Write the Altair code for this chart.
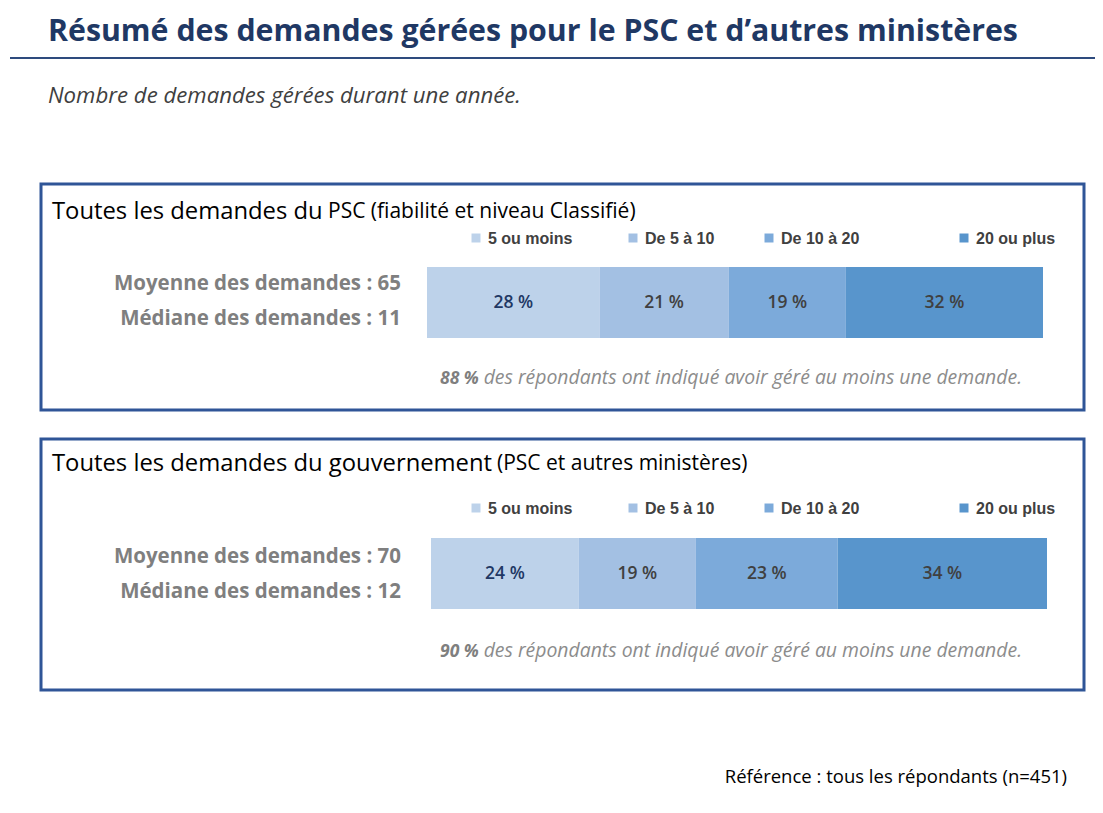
import altair as alt
import pandas as pd

# ---------------- data ----------------
categories = ["5 ou moins", "De 5 à 10", "De 10 à 20", "20 ou plus"]
psc_values = [28, 21, 19, 32]
gov_values = [24, 19, 23, 34]
psc_mean, psc_median = 65, 11
gov_mean, gov_median = 70, 12
psc_atleast_one = 88
gov_atleast_one = 90
n_total = 451

colors = ["#BDD2EA", "#A3C0E3", "#7CAADA", "#5895CC"]
NAVY = "#1F3864"
BOX = "#2F5597"
CAL = "Open Sans"
ARIAL = "Liberation Sans"

W, H = 1087, 797


def P(v):
    """page pixel -> chart pixel"""
    return v - 8


one = pd.DataFrame({"a": [0]})


def txt(text, x, y, size, color="#000", weight="normal", style="normal",
        align="left", font=CAL):
    return alt.Chart(one).mark_text(
        text=text, align=align, baseline="alphabetic", fontSize=size,
        font=font, color=color, fontWeight=weight, fontStyle=style
    ).encode(x=alt.value(P(x)), y=alt.value(P(y)))


def rect(x1, y1, x2, y2, stroke=BOX, sw=3, fill="white"):
    return alt.Chart(one).mark_rect(
        fill=fill, stroke=stroke, strokeWidth=sw
    ).encode(x=alt.value(P(x1)), x2=alt.value(P(x2)),
             y=alt.value(P(y1)), y2=alt.value(P(y2)))


def bars(values, x0, x1, y0, y1):
    df = pd.DataFrame({"cat": categories, "val": values})
    df["end"] = df["val"].cumsum()
    df["start"] = df["end"] - df["val"]
    df["mid"] = (df["start"] + df["end"]) / 2
    df["label"] = df["val"].astype(str) + " %"
    xs = alt.Scale(domain=[0, 100], range=[P(x0), P(x1)])
    b = alt.Chart(df).mark_rect().encode(
        x=alt.X("start:Q", scale=xs, axis=None),
        x2="end:Q",
        y=alt.value(P(y0)), y2=alt.value(P(y1)),
        color=alt.Color("cat:N", scale=alt.Scale(domain=categories, range=colors),
                        legend=None),
    )
    t = alt.Chart(df).mark_text(
        font=CAL, fontSize=17.5, fontWeight=600, baseline="middle", align="center"
    ).encode(
        x=alt.X("mid:Q", scale=xs, axis=None),
        y=alt.value(P((y0 + y1) / 2)),
        text="label:N",
        color=alt.condition(alt.datum.cat == categories[0], alt.value(NAVY),
                            alt.value("#404040")),
    )
    return alt.layer(b, t).resolve_scale(color="independent")


def legend(ycenter):
    xs = [476, 633, 769, 964]
    layers = []
    for c, col, x in zip(categories, colors, xs):
        layers.append(rect(x - 4.5, ycenter - 4.5, x + 4.5, ycenter + 4.5,
                           stroke=col, sw=0, fill=col))
        layers.append(txt(c, x + 12, ycenter + 5.5, 16, color="#404040",
                          weight="bold", font=ARIAL))
    return layers


layers = []
# header
layers.append(txt("Résumé des demandes gérées pour le PSC et d’autres ministères",
                  48, 41, 30.3, color=NAVY, weight="bold"))
layers.append(rect(10, 57, 1103, 59, stroke=NAVY, sw=0, fill="#2E4B7E"))
layers.append(txt("Nombre de demandes gérées durant une année.", 48, 103, 22.2,
                  color="#404040", style="italic"))

# panel 1
layers.append(rect(41, 184, 1084, 410))
layers.append(txt("Toutes les demandes du", 52, 219, 23.8, color="#000"))
layers.append(txt("PSC (fiabilité et niveau Classifié)", 328, 218, 21, color="#000"))
layers += legend(238)
layers.append(txt(f"Moyenne des demandes : {psc_mean}", 401, 290, 20.5,
                  color="#7F7F7F", weight="bold", align="right"))
layers.append(txt(f"Médiane des demandes : {psc_median}", 401, 325, 20.5,
                  color="#7F7F7F", weight="bold", align="right"))
layers.append(txt(f"{psc_atleast_one} %", 440, 384, 17.5, color="#7F7F7F",
                  weight="bold", style="italic"))
layers.append(txt("des répondants ont indiqué avoir géré au moins une demande.",
                  1022, 384, 19.4, color="#8C8C8C", style="italic", align="right"))

# panel 2
layers.append(rect(41, 439, 1084, 690))
layers.append(txt("Toutes les demandes du gouvernement", 52, 471, 23.8, color="#000"))
layers.append(txt("(PSC et autres ministères)", 497, 470, 21, color="#000"))
layers += legend(508)
layers.append(txt(f"Moyenne des demandes : {gov_mean}", 401, 563, 20.5,
                  color="#7F7F7F", weight="bold", align="right"))
layers.append(txt(f"Médiane des demandes : {gov_median}", 401, 598, 20.5,
                  color="#7F7F7F", weight="bold", align="right"))
layers.append(txt(f"{gov_atleast_one} %", 440, 657, 17.5, color="#7F7F7F",
                  weight="bold", style="italic"))
layers.append(txt("des répondants ont indiqué avoir géré au moins une demande.",
                  1022, 657, 19.4, color="#8C8C8C", style="italic", align="right"))

# footer
layers.append(txt(f"Référence : tous les répondants (n={n_total})", 1067, 783, 18.5,
                  color="#000", align="right"))

# bars
layers.append(bars(psc_values, 427, 1043, 267, 338))
layers.append(bars(gov_values, 431, 1047, 538, 609))

chart = alt.layer(*layers).resolve_scale(
    x="independent", y="independent", color="independent"
).properties(
    width=W, height=H, padding=0, autosize=alt.AutoSizeParams(type="none"),
    background="white",
).configure_view(stroke=None)

chart.save("out.html", embed_options={"renderer": "svg", "actions": False})
